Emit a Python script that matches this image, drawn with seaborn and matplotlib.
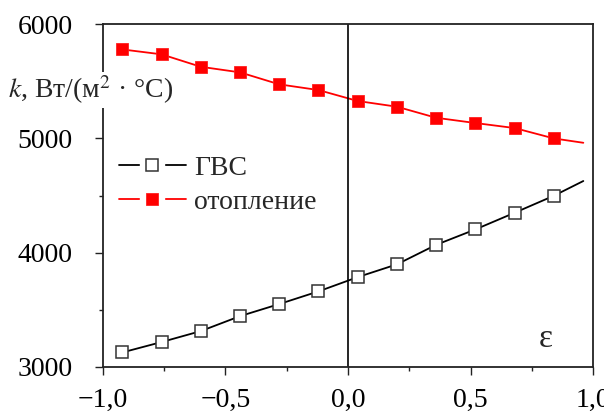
import seaborn as sns
import matplotlib.pyplot as plt
from matplotlib.lines import Line2D
from matplotlib.ticker import MultipleLocator

# данные
eps = [-0.92, -0.76, -0.60, -0.44, -0.28, -0.12, 0.04, 0.20, 0.36, 0.52, 0.68, 0.84]
k_gvs = [3125, 3216, 3312, 3443, 3549, 3660, 3785, 3897, 4068, 4203, 4349, 4498]
k_heat = [5780, 5737, 5628, 5579, 5474, 5424, 5328, 5278, 5181, 5135, 5091, 5000]
eps_end = 0.96
k_gvs_end = 4627
k_heat_end = 4962

xticks = [-1.0, -0.5, 0.0, 0.5, 1.0]
xtick_labels = ['\u22121,0', '\u22120,5', '0,0', '0,5', '1,0']
yticks = [3000, 4000, 5000, 6000]
series_names = ['ГВС', 'отопление']

sns.set_theme(style='ticks')
plt.rcParams['font.family'] = ['Liberation Serif', 'DejaVu Serif']
plt.rcParams['mathtext.fontset'] = 'stix'

fig = plt.figure(figsize=(6.04, 4.17), dpi=100)
ax = fig.add_axes([0.170, 0.1206, 0.812, 0.8211])

line_x = eps + [eps_end]
sns.lineplot(x=line_x, y=k_gvs + [k_gvs_end], sort=False, estimator=None,
             color='black', lw=1.3, ax=ax)
sns.lineplot(x=line_x, y=k_heat + [k_heat_end], sort=False, estimator=None,
             color='#ff0000', lw=1.3, ax=ax)
ax.plot(eps, k_gvs, ls='none', marker='s', ms=8, mfc='white', mec='#333333', mew=1.1)
ax.plot(eps, k_heat, ls='none', marker='s', ms=8.3, mfc='#ff0000', mec='#ff2020', mew=0.6)

ax.axvline(0, color='black', lw=1.2)

ax.set_xlim(-1.0, 1.0)
ax.set_ylim(3000, 6000)
ax.set_xticks(xticks)
ax.set_xticklabels(xtick_labels)
ax.set_yticks(yticks)
ax.xaxis.set_minor_locator(MultipleLocator(0.25))
ax.yaxis.set_minor_locator(MultipleLocator(500))
ax.tick_params(axis='both', which='major', direction='out', length=5.5, width=1.0,
               color='#222222', labelsize=20, labelcolor='black')
ax.tick_params(axis='both', which='minor', direction='out', length=3, width=1.0,
               color='#222222')
ax.tick_params(axis='x', which='major', pad=10)
ax.tick_params(axis='y', which='major', pad=16)
for sp in ax.spines.values():
    sp.set_color('#222222')
    sp.set_linewidth(1.3)

ax.text(-0.193, 0.808, '$k$, Вт/(м$^2$ · °C)', transform=ax.transAxes,
        fontsize=20, ha='left', va='center',
        bbox=dict(facecolor='white', edgecolor='none', pad=1))
ax.text(0.904, 0.081, 'ε', transform=ax.transAxes, fontsize=24, ha='center', va='center')

# легенда: линия с разрывом вокруг маркера
gap = Line2D([], [], ls='none', marker='s', ms=17, mfc='white', mec='white')
h_gvs = (Line2D([], [], color='black', lw=1.3), gap,
         Line2D([], [], ls='none', marker='s', ms=8, mfc='white', mec='#333333', mew=1.1))
h_heat = (Line2D([], [], color='#ff0000', lw=1.3), gap,
          Line2D([], [], ls='none', marker='s', ms=8.3, mfc='#ff0000', mec='#ff2020', mew=0.6))
ax.legend([h_gvs, h_heat], series_names, loc='upper left', bbox_to_anchor=(0.033, 0.617),
          frameon=False, fontsize=20, handlelength=2.4, handletextpad=0.3,
          labelspacing=0.3, borderpad=0, borderaxespad=0)

fig.savefig('out.png', dpi=100)
